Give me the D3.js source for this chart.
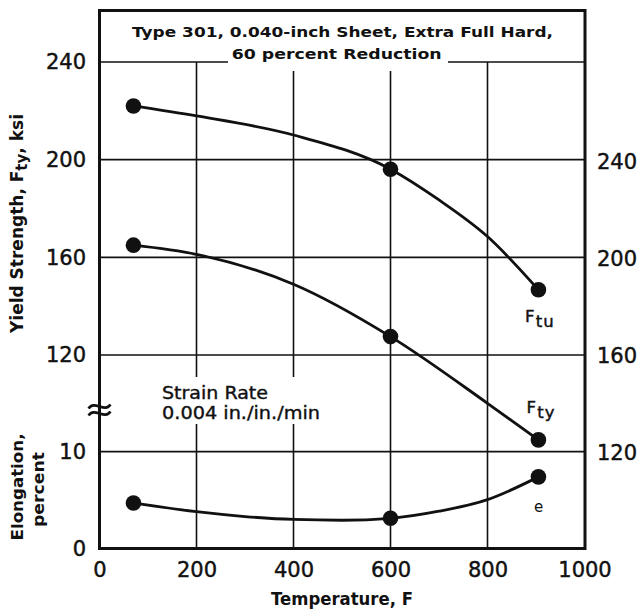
<!DOCTYPE html>
<html><head><meta charset="utf-8">
<script src="https://cdn.jsdelivr.net/npm/d3@7"></script>
<style>body{margin:0;background:#fff} svg{display:block}</style>
</head><body><svg id="c" width="643" height="611"></svg>
<script>
// ---- data ----
const tempTicks = [0, 200, 400, 600, 800, 1000];
const leftStrengthTicks = [120, 160, 200, 240];
const rightStrengthTicks = [120, 160, 200, 240];
const elongTicks = [0, 10];

const testTemps = [70, 600, 905];
const upperStrength = [222.0, 196.1, 146.7];   // upper curve (left scale)
const lowerStrength = [205.5, 167.8, 125.2];   // lower curve (right scale)
const elongation = [4.7, 3.12, 7.4];           // percent

// faired curves as drawn in the picture
const upperCurveTemps = [70, 200, 400, 600, 700, 800, 905];
const upperCurveVals  = [222.0, 217.9, 210.1, 196.1, 183.5, 168.5, 146.7];
const lowerCurveTemps = [70, 200, 400, 600, 800, 905];
const lowerCurveVals  = [205.5, 201.7, 189.4, 167.8, 140.3, 125.2];
const elongCurveTemps = [70, 200, 300, 400, 500, 600, 700, 800, 905];
const elongCurveVals  = [4.72, 3.8, 3.3, 3.0, 2.92, 3.12, 3.85, 5.05, 7.4];

const titleLines = ["Type 301, 0.040-inch Sheet, Extra Full Hard,", "60 percent Reduction"];

// ---- scales ----
const svg = d3.select("#c");
const x = d3.scaleLinear([0, 1000], [99.5, 584.5]);
const yL = d3.scaleLinear([120, 240], [355, 62]);
const yR = d3.scaleLinear([120, 240], [452.5, 161.5]);
const yE = d3.scaleLinear([0, 10], [548.5, 451.7]);
const frameTop = 10.5, frameRight = 585;
const ink = "#111";
const FONT = "DejaVu Sans, sans-serif";

// ---- grid ----
const g = svg.append("g");
g.selectAll(".hg").data(leftStrengthTicks).join("line")
  .attr("x1", x(0)).attr("x2", frameRight)
  .attr("y1", d => yL(d)).attr("y2", d => yL(d))
  .attr("stroke", ink).attr("stroke-width", 1.7);
g.selectAll(".hge").data(elongTicks.filter(d => d > 0)).join("line")
  .attr("x1", x(0)).attr("x2", frameRight)
  .attr("y1", d => yE(d)).attr("y2", d => yE(d))
  .attr("stroke", ink).attr("stroke-width", 1.7);
g.selectAll(".vg").data(tempTicks.filter(d => d > 0 && d < 1000)).join("line")
  .attr("x1", d => x(d)).attr("x2", d => x(d))
  .attr("y1", yL(240)).attr("y2", yE(0))
  .attr("stroke", ink).attr("stroke-width", 1.6);

// white boxes behind annotations
svg.append("rect").attr("x", 228).attr("y", 40).attr("width", 220).attr("height", 31).attr("fill", "#fff");
svg.append("rect").attr("x", 156).attr("y", 377).attr("width", 170).attr("height", 47).attr("fill", "#fff");

// ---- frame ----
svg.append("rect").attr("x", x(0)).attr("y", frameTop)
  .attr("width", frameRight - x(0)).attr("height", yE(0) - frameTop)
  .attr("fill", "none").attr("stroke", ink).attr("stroke-width", 3);

// ---- axes ----
function styleAxis(sel) {
  sel.select(".domain").remove();
  sel.selectAll("text").attr("font-family", FONT).attr("font-size", 21).attr("fill", ink)
    .attr("stroke", ink).attr("stroke-width", 0.45);
}
svg.append("g").attr("transform", `translate(${x(0)},0)`)
  .call(d3.axisLeft(yL).tickValues(leftStrengthTicks).tickSize(0).tickPadding(13.5).tickFormat(d3.format("d")))
  .call(styleAxis);
svg.append("g").attr("transform", `translate(${x(0)},0)`)
  .call(d3.axisLeft(yE).tickValues(elongTicks).tickSize(0).tickPadding(13.5).tickFormat(d3.format("d")))
  .call(styleAxis);
svg.append("g").attr("transform", `translate(${frameRight},0)`)
  .call(d3.axisRight(yR).tickValues(rightStrengthTicks).tickSize(0).tickPadding(12).tickFormat(d3.format("d")))
  .call(styleAxis);
svg.append("g").attr("transform", `translate(0,${yE(0)})`)
  .call(d3.axisBottom(x).tickValues(tempTicks).tickSize(0).tickPadding(13.6).tickFormat(d3.format("d")))
  .call(styleAxis);

// axis break symbol
const bx = x(0), by = 410;
[-3.5, 3.5].forEach(o => {
  svg.append("path")
    .attr("d", `M${bx-11},${by+o+2} C${bx-5},${by+o-7} ${bx+5},${by+o+7} ${bx+11},${by+o-2}`)
    .attr("fill", "none").attr("stroke", ink).attr("stroke-width", 2.6);
});

// ---- curves ----
const mk = (temps, vals, ys) => temps.map((t, i) => [x(t), ys(vals[i])]);
const line = d3.line().curve(d3.curveMonotoneX);
[[upperCurveTemps, upperCurveVals, yL], [lowerCurveTemps, lowerCurveVals, yR], [elongCurveTemps, elongCurveVals, yE]]
  .forEach(([t, v, s]) => {
    svg.append("path").attr("d", line(mk(t, v, s)))
      .attr("fill", "none").attr("stroke", ink).attr("stroke-width", 2.8);
  });

// ---- points ----
[[upperStrength, yL], [lowerStrength, yR], [elongation, yE]].forEach(([vals, s]) => {
  svg.append("g").selectAll("circle").data(vals).join("circle")
    .attr("cx", (d, i) => x(testTemps[i])).attr("cy", d => s(d)).attr("r", 7.8).attr("fill", ink);
});

// ---- texts ----
svg.append("text").attr("x", 342.5).attr("y", 36.5).attr("text-anchor", "middle")
  .attr("font-family", FONT).attr("font-weight", "bold").attr("font-size", 14.5)
  .attr("textLength", 421).attr("lengthAdjust", "spacingAndGlyphs").attr("fill", ink).text(titleLines[0]);
svg.append("text").attr("x", 336.7).attr("y", 58.5).attr("text-anchor", "middle")
  .attr("font-family", FONT).attr("font-weight", "bold").attr("font-size", 14.5)
  .attr("textLength", 210).attr("lengthAdjust", "spacingAndGlyphs").attr("fill", ink).text(titleLines[1]);

svg.append("text").attr("x", 162).attr("y", 398.5)
  .attr("font-family", FONT).attr("font-size", 18).attr("textLength", 106).attr("lengthAdjust", "spacingAndGlyphs")
  .attr("fill", ink).attr("stroke", ink).attr("stroke-width", 0.4).text("Strain Rate");
svg.append("text").attr("x", 162).attr("y", 419)
  .attr("font-family", FONT).attr("font-size", 18).attr("textLength", 158).attr("lengthAdjust", "spacingAndGlyphs")
  .attr("fill", ink).attr("stroke", ink).attr("stroke-width", 0.4).text("0.004 in./in./min");

function subLabel(px, py, main, sub, size) {
  const t = svg.append("text").attr("x", px).attr("y", py)
    .attr("font-family", FONT).attr("font-size", size).attr("fill", ink)
    .attr("stroke", ink).attr("stroke-width", 0.45).attr("letter-spacing", 1.2);
  t.append("tspan").text(main);
  t.append("tspan").attr("dy", 5).text(sub);
  return t;
}
subLabel(525, 322, "F", "tu", 16.5);
subLabel(526.5, 413, "F", "ty", 16.5);
svg.append("text").attr("x", 538.5).attr("y", 511.5).attr("text-anchor", "middle")
  .attr("font-family", FONT).attr("font-size", 15).attr("fill", ink).text("e");

// left axis title
const yl = svg.append("text").attr("transform", "translate(23,223.5) rotate(-90)")
  .attr("text-anchor", "middle").attr("font-family", FONT).attr("font-weight", "bold")
  .attr("font-size", 17).attr("fill", ink);
yl.append("tspan").text("Yield Strength, F");
yl.append("tspan").attr("dy", 4).attr("font-size", 15).text("ty");
yl.append("tspan").attr("dy", -4).text(", ksi");

svg.append("text").attr("transform", "translate(23,487) rotate(-90)")
  .attr("text-anchor", "middle").attr("font-family", FONT).attr("font-weight", "bold")
  .attr("font-size", 16.5).attr("fill", ink).attr("textLength", 107).attr("lengthAdjust", "spacingAndGlyphs").text("Elongation,");
svg.append("text").attr("transform", "translate(44,489.5) rotate(-90)")
  .attr("text-anchor", "middle").attr("font-family", FONT).attr("font-weight", "bold")
  .attr("font-size", 16.5).attr("fill", ink).attr("textLength", 75).attr("lengthAdjust", "spacingAndGlyphs").text("percent");

svg.append("text").attr("x", 342).attr("y", 604.5).attr("text-anchor", "middle")
  .attr("font-family", FONT).attr("font-weight", "bold").attr("font-size", 17)
  .attr("textLength", 142).attr("lengthAdjust", "spacingAndGlyphs").attr("fill", ink).text("Temperature, F");
</script></body></html>
